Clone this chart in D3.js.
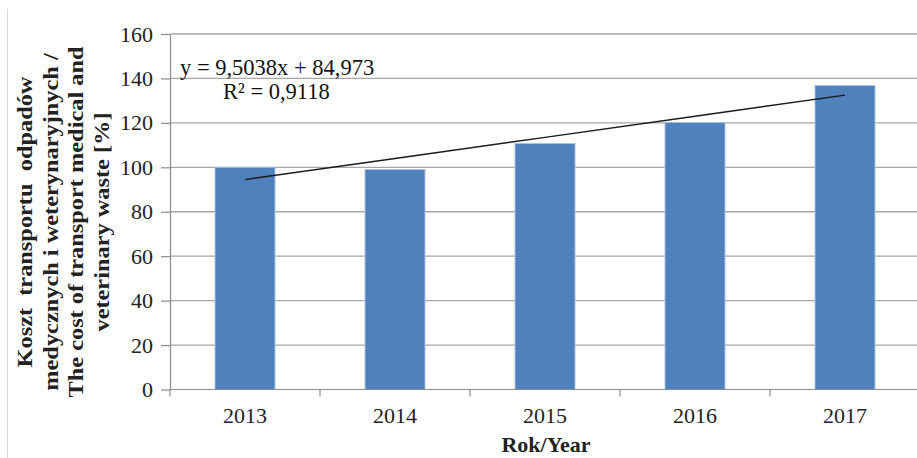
<!DOCTYPE html>
<html>
<head>
<meta charset="utf-8">
<script src="https://cdn.jsdelivr.net/npm/d3@7"></script>
<style>
  html, body { margin: 0; padding: 0; background: #fff; }
  svg { display: block; font-family: "Liberation Serif", "Times New Roman", serif; }
</style>
</head>
<body>
<div id="chart"></div>
<script>
// data
var years = ["2013", "2014", "2015", "2016", "2017"];
var costs = [100, 99, 110.7, 120.2, 136.8];
var yTicks = [0, 20, 40, 60, 80, 100, 120, 140, 160];
var trend = {slope: 9.5038, intercept: 84.973};
var trendLabels = ["y = 9,5038x + 84,973", "R\u00b2 = 0,9118"];
var yTitle = ["Koszt  transportu  odpadów", "medycznych i weterynaryjnych /",
              "The cost of transport medical and", "veterinary waste [%]"];
var xTitle = "Rok/Year";

var width = 917, height = 458;
var margin = {top: 34, right: -3, bottom: 68.5, left: 170};

var svg = d3.select("#chart")
  .append("svg")
    .attr("width", width)
    .attr("height", height);

// frame edge on the left
svg.append("line")
    .attr("x1", 7.5).attr("x2", 7.5)
    .attr("y1", 9).attr("y2", height)
    .attr("stroke", "#d9d9d9");

var x = d3.scaleBand()
    .domain(years)
    .range([margin.left, width - margin.right])
    .paddingInner(0.6)
    .paddingOuter(0.3);

var y = d3.scaleLinear()
    .domain([0, 160])
    .range([height - margin.bottom, margin.top]);

// gridlines
svg.append("g")
  .selectAll("line")
  .data(yTicks.filter(function(d){ return d > 0; }))
  .enter().append("line")
    .attr("x1", margin.left).attr("x2", width)
    .attr("y1", function(d){ return y(d); })
    .attr("y2", function(d){ return y(d); })
    .attr("stroke", "#a6a6a6")
    .attr("stroke-width", 1.3);

// y axis
var yAxis = svg.append("g")
    .attr("transform", "translate(" + margin.left + ",0)")
    .call(d3.axisLeft(y).tickValues(yTicks).tickSize(9).tickPadding(8).tickSizeOuter(0));
yAxis.select(".domain").attr("stroke", "#8c8c8c").attr("stroke-width", 1.2);
yAxis.selectAll(".tick line").attr("stroke", "#8c8c8c").attr("stroke-width", 1.2);
yAxis.selectAll("text")
    .attr("font-size", 22)
    .attr("font-family", "Liberation Serif")
    .attr("fill", "#222");

// bars
svg.append("g")
  .selectAll("rect")
  .data(costs)
  .enter().append("rect")
    .attr("x", function(d, i){ return x(years[i]); })
    .attr("y", function(d){ return y(d); })
    .attr("width", x.bandwidth())
    .attr("height", function(d){ return y(0) - y(d); })
    .attr("fill", "#4f81bd")
    .attr("stroke", "#a9c1e3")
    .attr("stroke-width", 1);

// x axis
var tickPos = d3.range(years.length + 1).map(function(i){ return margin.left + i * x.step(); });
svg.append("line")
    .attr("x1", margin.left).attr("x2", width)
    .attr("y1", y(0)).attr("y2", y(0))
    .attr("stroke", "#8c8c8c").attr("stroke-width", 1.2);
svg.append("g")
  .selectAll("line")
  .data(tickPos)
  .enter().append("line")
    .attr("x1", function(d){ return d; }).attr("x2", function(d){ return d; })
    .attr("y1", y(0)).attr("y2", y(0) + 7)
    .attr("stroke", "#8c8c8c").attr("stroke-width", 1.2);
svg.append("g")
  .selectAll("text")
  .data(years)
  .enter().append("text")
    .attr("x", function(d){ return x(d) + x.bandwidth() / 2; })
    .attr("y", 423)
    .attr("text-anchor", "middle")
    .attr("font-size", 22)
    .attr("fill", "#222")
    .text(function(d){ return d; });

// linear trend line over the bar centres
var trendPts = years.map(function(d, i){
  return [x(d) + x.bandwidth() / 2, y(trend.slope * (i + 1) + trend.intercept)];
});
svg.append("path")
    .attr("d", d3.line()(trendPts))
    .attr("fill", "none")
    .attr("stroke", "#1a1a1a")
    .attr("stroke-width", 1.4);

svg.append("text")
    .attr("x", 180).attr("y", 75)
    .attr("font-size", 22.5)
    .attr("fill", "#111")
    .text(trendLabels[0]);
svg.append("text")
    .attr("x", 223).attr("y", 99)
    .attr("font-size", 22.5)
    .attr("fill", "#111")
    .text(trendLabels[1]);

// axis titles
svg.append("text")
    .attr("x", 546).attr("y", 452)
    .attr("text-anchor", "middle")
    .attr("font-size", 22)
    .attr("font-weight", "bold")
    .attr("fill", "#222")
    .text(xTitle);

// the source is stretched sideways, so the rotated title runs long
var yt = svg.append("text")
    .attr("transform", "translate(32,222) rotate(-90) scale(1.16,1)")
    .attr("text-anchor", "middle")
    .attr("font-size", 21)
    .attr("font-weight", "bold")
    .attr("fill", "#222");
yt.selectAll("tspan")
  .data(yTitle)
  .enter().append("tspan")
    .attr("x", 0)
    .attr("dy", function(d, i){ return i === 0 ? 0 : 25.7; })
    .style("white-space", "pre")
    .text(function(d){ return d; });
</script>
</body>
</html>
